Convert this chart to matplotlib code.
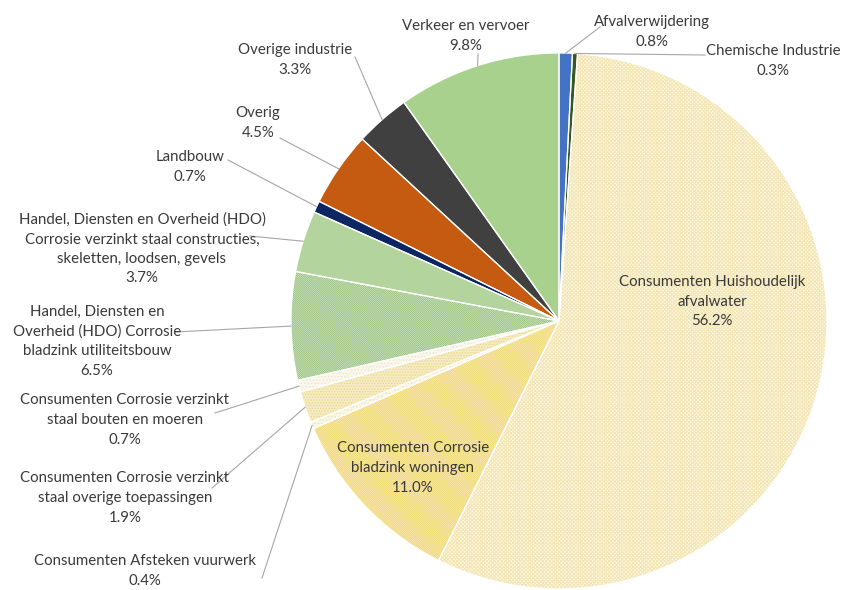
import matplotlib
matplotlib.use("Agg")
import matplotlib.pyplot as plt
from matplotlib.patches import Wedge
import numpy as np

# Emission sources (clockwise from 12 o'clock) and their share in percent
categories = [
    "Afvalverwijdering",
    "Chemische Industrie",
    "Consumenten Huishoudelijk\nafvalwater",
    "Consumenten Corrosie\nbladzink woningen",
    "Consumenten Afsteken vuurwerk",
    "Consumenten Corrosie verzinkt\nstaal overige toepassingen",
    "Consumenten Corrosie verzinkt\nstaal bouten en moeren",
    "Handel, Diensten en\nOverheid (HDO) Corrosie\nbladzink utiliteitsbouw",
    "Handel, Diensten en Overheid (HDO)\nCorrosie verzinkt staal constructies,\nskeletten, loodsen, gevels",
    "Landbouw",
    "Overig",
    "Overige industrie",
    "Verkeer en vervoer",
]
shares = [0.8, 0.3, 56.2, 11.0, 0.4, 1.9, 0.7, 6.5, 3.7, 0.7, 4.5, 3.3, 9.8]

# Fill colour, hatch pattern and hatch colour per slice
fills = ["#4472C4", "#385723", "#FDF9EA", "#FDF7E0", "#FAF6E8", "#F6EDC6",
         "#FAF8EE", "#F3F8EE", "#E4F0DA", "#0B2660", "#C55A11", "#404040",
         "#A9D18E"]
hatches = [None, None, "x" * 9, "\\" * 16, "." * 5, "." * 6, "." * 5,
           "\\" * 16, "+" * 12, None, None, None, None]
hatch_colors = [None, None, "#F3E6B4", "#F0D977", "#EEE4BE", "#EAD990",
                "#EEE7CD", "#9CC583", "#B4D49E", None, None, None, None]

W, H = 845, 590
center = (559, H - 321)
radius = 268

# Label anchors (centre of text block) and where each leader line starts
label_pos = [
    (652, 32), (773, 61), (712, 302), (413, 468), (145, 571), (125, 498),
    (125, 420), (97, 341), (142, 249), (190, 167), (258, 123), (295, 60),
    (466, 36),
]
leader_start = [
    (600, 27), (705, 55), None, None, (262, 578), (212, 488), (215, 413),
    (175, 332), (250, 236), (228, 160), (280, 138), (355, 57), (478, 54),
]

plt.rcParams["hatch.linewidth"] = 0.8
fig = plt.figure(figsize=(W / 100, H / 100), dpi=100)
ax = fig.add_axes([0, 0, 1, 1])

wedges, _ = ax.pie(shares, colors=fills, startangle=90, counterclock=False,
                   center=center, radius=radius,
                   wedgeprops=dict(linewidth=0))

# Pattern overlays and thin white separators
for w, h, hc in zip(wedges, hatches, hatch_colors):
    if h:
        ax.add_patch(Wedge(w.center, w.r, w.theta1, w.theta2, facecolor="none",
                           edgecolor=hc, hatch=h, linewidth=0))
for w in wedges:
    ax.add_patch(Wedge(w.center, w.r, w.theta1, w.theta2, facecolor="none",
                       edgecolor="white", linewidth=0.9))

text_color = "#3A3A3A"
for i, (w, name, val) in enumerate(zip(wedges, categories, shares)):
    lx, ly = label_pos[i]
    ax.text(lx, H - ly, f"{name}\n{val:.1f}%", ha="center", va="center",
            fontsize=10.8, family="Lato", color=text_color, linespacing=1.5,
            zorder=5)
    if leader_start[i] is not None:
        mid = np.deg2rad((w.theta1 + w.theta2) / 2)
        ex = w.center[0] + w.r * np.cos(mid)
        ey = w.center[1] + w.r * np.sin(mid)
        sx, sy = leader_start[i]
        ax.plot([sx, ex], [H - sy, ey], color="#A6A6A6", linewidth=0.8,
                zorder=4)

ax.set_xlim(0, W)
ax.set_ylim(0, H)
ax.set_aspect("equal")
ax.axis("off")
fig.savefig("out.png", dpi=100, facecolor="white")
